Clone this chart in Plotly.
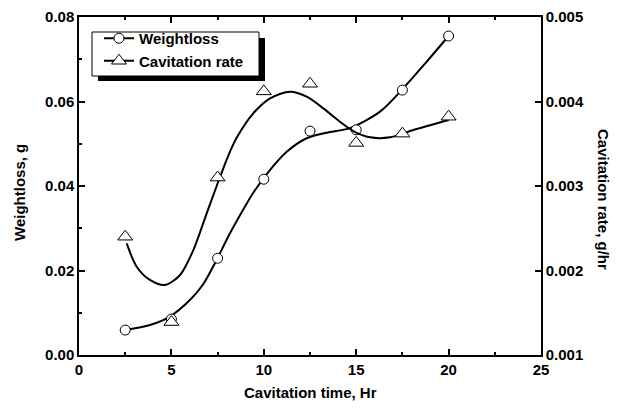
import plotly.graph_objects as go

# measured data points
time_pts = [2.5, 5, 7.5, 10, 12.5, 15, 17.5, 20]
weightloss = [0.0059, 0.0085, 0.0229, 0.0416, 0.0530, 0.0533, 0.0627, 0.0755]
cav_rate = [0.00240, 0.00139, 0.00310, 0.00412, 0.00421, 0.00351, 0.00362, 0.00382]

# smoothed fit curves
wl_fit_x = [2.5, 3.84, 4.92, 6.0, 6.73, 7.41, 8.17, 9.07, 9.43, 10.34, 11.24, 12.32, 13.4, 14.66,
            16.29, 17.46, 18.81, 20.0]
wl_fit_y = [0.0059, 0.0071, 0.0091, 0.0130, 0.0168, 0.0222, 0.0288, 0.0358, 0.0384, 0.0438, 0.0481,
            0.0513, 0.0526, 0.0537, 0.0576, 0.0627, 0.0694, 0.0755]
cr_fit_x = [2.58, 3.12, 3.84, 4.65, 5.47, 6.19, 6.91, 7.45, 8.08, 8.53, 9.43, 10.34, 11.42, 12.32,
            13.22, 14.12, 14.84, 15.75, 16.83, 18.09, 20.0]
cr_fit_y = [0.00232, 0.002045, 0.001888, 0.001828, 0.001947, 0.002243, 0.002677, 0.003000, 0.003360,
            0.003570, 0.00386, 0.004038, 0.004116, 0.004057, 0.003919, 0.003761, 0.003650, 0.003576,
            0.003576, 0.003663, 0.003781]

FONT = "Liberation Sans"
BLACK = "#000000"

fig = go.Figure()

fig.add_trace(go.Scatter(x=wl_fit_x, y=wl_fit_y, mode="lines", line=dict(color=BLACK, width=2, shape="spline", smoothing=0.8),
                         showlegend=False, hoverinfo="skip"))
fig.add_trace(go.Scatter(x=cr_fit_x, y=cr_fit_y, mode="lines", yaxis="y2",
                         line=dict(color=BLACK, width=2, shape="spline", smoothing=0.8), showlegend=False, hoverinfo="skip"))
fig.add_trace(go.Scatter(x=time_pts, y=weightloss, mode="markers", showlegend=False,
                         marker=dict(symbol="circle", size=10, color="white", line=dict(color=BLACK, width=1))))
fig.add_trace(go.Scatter(x=time_pts, y=cav_rate, mode="markers", yaxis="y2", showlegend=False,
                         marker=dict(symbol="triangle-up", size=13, color="white", line=dict(color=BLACK, width=1))))
# legend entries
fig.add_trace(go.Scatter(x=[None], y=[None], mode="lines+markers", name="Weightloss",
                         line=dict(color=BLACK, width=2),
                         marker=dict(symbol="circle", size=10, color="white", line=dict(color=BLACK, width=1))))
fig.add_trace(go.Scatter(x=[None], y=[None], mode="lines+markers", name="Cavitation rate",
                         line=dict(color=BLACK, width=2),
                         marker=dict(symbol="triangle-up", size=13, color="white", line=dict(color=BLACK, width=1))))

L, R, T, B = 79, 79, 17, 53
W, H = 620, 408
pw, ph = W - L - R, H - T - B

def px(x):
    return (x - L) / pw

def py(y):
    return (H - B - y) / ph

shapes = [
    dict(type="rect", xref="paper", yref="paper", x0=px(98), x1=px(265), y0=py(81), y1=py(38),
         fillcolor=BLACK, line=dict(width=0), layer="above"),
    dict(type="rect", xref="paper", yref="paper", x0=px(92), x1=px(259), y0=py(76), y1=py(32),
         fillcolor="white", line=dict(color=BLACK, width=1), layer="above"),
]

tickfont = dict(family=FONT, size=15, color=BLACK, weight="bold")
titlefont = dict(family=FONT, size=15, color=BLACK, weight="bold")

fig.update_layout(
    width=W, height=H,
    margin=dict(l=L, r=R, t=T, b=B),
    paper_bgcolor="white", plot_bgcolor="white",
    showlegend=True,
    legend=dict(x=px(99), y=py(22), xanchor="left", yanchor="top", bgcolor="rgba(0,0,0,0)",
                borderwidth=0, font=dict(family=FONT, size=15, color=BLACK, weight="bold"),
                tracegroupgap=0, itemwidth=30),
    shapes=shapes,
    xaxis=dict(range=[0, 25], tickvals=[0, 5, 10, 15, 20, 25], ticks="inside", ticklen=6, tickwidth=1.5,
               tickcolor=BLACK, showline=True, linecolor=BLACK, linewidth=1.5, mirror="ticks",
               showgrid=False, zeroline=False, tickfont=tickfont, automargin=False,
               minor=dict(ticks="inside", ticklen=3, dtick=2.5, tickcolor=BLACK, showgrid=False)),
    yaxis=dict(range=[0, 0.08], tickvals=[0, 0.02, 0.04, 0.06, 0.08], tickformat=".2f", ticks="inside",
               ticklen=6, tickwidth=1.5, tickcolor=BLACK, showline=True, linecolor=BLACK, linewidth=1.5,
               showgrid=False, zeroline=False, tickfont=tickfont, automargin=False,
               minor=dict(ticks="inside", ticklen=3, dtick=0.01, tickcolor=BLACK, showgrid=False)),
    yaxis2=dict(range=[0.001, 0.005], tickvals=[0.001, 0.002, 0.003, 0.004, 0.005], tickformat=".3f",
                overlaying="y", side="right", ticks="inside", ticklen=6, tickwidth=1.5, tickcolor=BLACK,
                showline=True, linecolor=BLACK, linewidth=1.5, showgrid=False, zeroline=False,
                tickfont=tickfont, automargin=False),
    annotations=[
        dict(text="Cavitation time, Hr", xref="paper", yref="paper", x=px(310), y=py(393),
             showarrow=False, font=titlefont, xanchor="center", yanchor="middle"),
        dict(text="Weightloss, g", xref="paper", yref="paper", x=px(19), y=py(193), textangle=-90,
             showarrow=False, font=titlefont, xanchor="center", yanchor="middle"),
        dict(text="Cavitation rate, g/hr", xref="paper", yref="paper", x=px(604), y=py(199), textangle=90,
             showarrow=False, font=titlefont, xanchor="center", yanchor="middle"),
    ],
)

fig.write_html("out.html")
